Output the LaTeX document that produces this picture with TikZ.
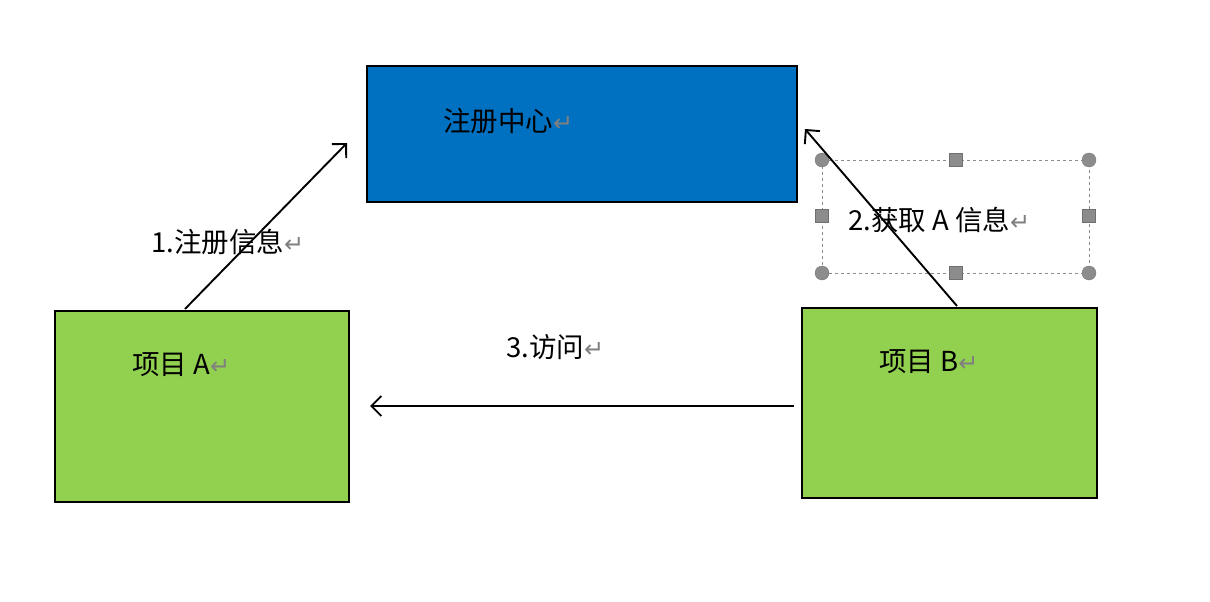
\documentclass[tikz,border=0pt]{standalone}
\usepackage{fontspec}
\setmainfont{Noto Sans CJK SC}
\newfontfamily\symfont{DejaVu Sans}
\usetikzlibrary{arrows.meta}
\definecolor{regblue}{HTML}{0070C0}
\definecolor{projgreen}{HTML}{92D050}
\definecolor{handlegray}{HTML}{8C8C8C}
\newcommand{\retmark}{{\symfont\color{gray}\fontsize{24pt}{24pt}\selectfont ↵}}
\begin{document}
\begin{tikzpicture}[x=1pt,y=-1pt,
  box/.style={draw=black,line width=1.5pt},
  lbl/.style={anchor=west,inner sep=0pt,font=\fontsize{27.5pt}{30pt}\selectfont},
  conn/.style={line width=1.9pt,-{Straight Barb[length=10pt,width=20pt,line width=1.9pt]}},
  sel/.style={draw=handlegray,dashed,line width=0.7pt},
  hcirc/.style={circle,fill=handlegray,draw=handlegray!80!black,line width=0.3pt,minimum size=14pt,inner sep=0pt},
  hsq/.style={rectangle,fill=handlegray,draw=handlegray!80!black,line width=0.3pt,minimum size=13pt,inner sep=0pt}]
\useasboundingbox (0,0) rectangle (1210,602);
\fill[white] (0,0) rectangle (1210,602);
% boxes
\draw[box,fill=regblue] (367,66) rectangle (797,202);
\draw[box,fill=projgreen] (55,311) rectangle (349,502);
\draw[box,fill=projgreen] (802,308) rectangle (1097,498);
\node[inner sep=0pt] (reg) at (582,134) {};
\node[inner sep=0pt] (pa) at (202,406) {};
\node[inner sep=0pt] (pb) at (950,403) {};
% selection box
\draw[sel] (822,160) rectangle (1089,273);
\node[hcirc] (h1) at (822,160) {};
\node[hcirc] (h2) at (1089,160) {};
\node[hcirc] (h3) at (822,273) {};
\node[hcirc] (h4) at (1089,273) {};
\node[hsq] (h5) at (956,160) {};
\node[hsq] (h6) at (956,273) {};
\node[hsq] (h7) at (822,216) {};
\node[hsq] (h8) at (1089,216) {};
% connector endpoints
\coordinate (a1s) at (185,309);
\coordinate (a1e) at (347,143);
\coordinate (a2s) at (957,306);
\coordinate (a2e) at (805,129);
\coordinate (a3s) at (794,406);
\coordinate (a3e) at (370,406);
\draw[conn] (a1s) -- (a1e);
\draw[conn] (a2s) -- (a2e);
\draw[conn] (a3s) -- (a3e);
% labels
\node[lbl] (tReg) at (443,121) {注册中心\retmark};
\node[lbl] (t1) at (151,242) {1.注册信息\retmark};
\node[lbl] (t2) at (848,220) {2.获取 A 信息\retmark};
\node[lbl] (t3) at (506,347) {3.访问\retmark};
\node[lbl] (tA) at (132,365) {项目 A\retmark};
\node[lbl] (tB) at (879,362) {项目 B\retmark};
\end{tikzpicture}
\end{document}
